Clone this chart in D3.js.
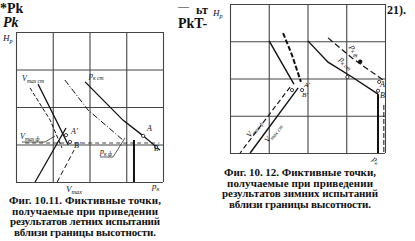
<!DOCTYPE html>
<html>
<head>
<meta charset="utf-8">
<script src="https://cdn.jsdelivr.net/npm/d3@7"></script>
<style>
body{margin:0;background:#fff}
svg{display:block}
text{font-family:"Liberation Serif","DejaVu Serif",serif;fill:#111}
</style>
</head>
<body>
<svg></svg>
<script>
// grid cells: both figures use a 4 x 4 grid in relative units
var gridTicks = [0,1,2,3,4];

// Fig. 10.11 (summer tests) - curves in grid units [x, H]
var sumVmaxSt = [[0.60,2.61],[1.06,1.71],[1.42,0.99]];
var sumVmaxStDash = [[0.38,2.51],[0.93,1.65],[1.25,0.91]];
var sumVmaxF = [[0.52,0],[1.36,1.44]];
var sumVmaxFDash = [[1.12,0],[1.58,0.85]];
var sumPkStDash = [[1.33,2.72],[1.96,1.92],[2.91,1.12]];
var sumPkSt = [[1.88,2.67],[2.91,1.65],[3.46,1.23],[3.92,0.85]];
var sumPkF = [[3.21,1.12],[3.21,0]];
var sumLevelF = [[0.25,1.04],[3.9,1.04]];
var sumPoints = [[1.36,1.25],[1.47,1.07],[3.46,1.23],[3.81,0.93]];

// Fig. 10.12 (winter tests)
var winVmaxSt = [[1.01,3.01],[1.29,2.50],[1.65,1.85]];
var winVmaxF = [[1.37,3.22],[1.60,2.63],[1.83,1.91]];
var winDiagSt = [[1.76,1.75],[0.52,0]];
var winDiagF = [[1.55,1.77],[0.26,0]];
var winPkSt = [[2.01,3.01],[2.53,2.44],[3.15,2.04],[3.82,1.58]];
var winPkF = [[2.53,3.09],[3.15,2.55],[3.95,1.96]];
var winVertSt = [[3.82,1.58],[3.82,0]];
var winVertF = [[3.97,1.29],[3.97,0]];
var winPoints = [[3.85,1.91],[3.82,1.67],[1.86,1.69],[1.60,1.69],[3.03,2.04]];
var winDots = [[3.36,2.45]];

var captionSummer = ["Фиг. 10.11. Фиктивные точки,","получаемые при приведении","результатов летних испытаний","вблизи границы высотности."];
var captionWinter = ["Фиг. 10. 12. Фиктивные точки,","получаемые при приведении","результатов зимних испытаний","вблизи границы высотности."];

var screen = {width:415, height:241};
var svg = d3.select("svg")
            .attr("width",screen.width)
            .attr("height",screen.height);

var line = function(x,y)
{
  return d3.line().x(function(d){return x(d[0]);}).y(function(d){return y(d[1]);});
}

var drawFrame = function(box)
{
  var x = d3.scaleLinear().domain([0,4]).range([box.left,box.right]);
  var y = d3.scaleLinear().domain([0,4]).range([box.bottom,box.top]);
  var g = svg.append("g");

  // grid via axes
  g.append("g")
   .attr("transform","translate(0,"+box.bottom+")")
   .call(d3.axisBottom(x).tickValues(gridTicks).tickSize(-(box.bottom-box.top)).tickFormat(""))
   .call(function(a){a.select(".domain").remove();});
  g.append("g")
   .attr("transform","translate("+box.left+",0)")
   .call(d3.axisLeft(y).tickValues(gridTicks).tickSize(-(box.right-box.left)).tickFormat(""))
   .call(function(a){a.select(".domain").remove();});
  g.selectAll(".tick line").attr("stroke","#444").attr("stroke-width",1.1);
  return {g:g,x:x,y:y};
}

var path = function(c,data,w,dash)
{
  c.g.append("path")
     .datum(data)
     .attr("d",line(c.x,c.y))
     .attr("fill","none")
     .attr("stroke","#111")
     .attr("stroke-width",w)
     .attr("stroke-dasharray",dash||null);
}

// italic symbol with a small subscript, as one text element
var label = function(x,y,main,sub,size,rot)
{
  var tx = svg.append("text")
     .attr("x",x).attr("y",y)
     .attr("font-size",size)
     .attr("font-style","italic");
  tx.append("tspan").text(main);
  if(sub) tx.append("tspan").attr("font-size",size*0.7).attr("dy",2).text(sub);
  if(rot) tx.attr("transform","rotate("+rot+","+x+","+y+")");
  return tx;
}

var plain = function(x,y,t,size,style)
{
  return svg.append("text")
     .attr("x",x).attr("y",y)
     .attr("font-size",size)
     .attr("font-weight","bold")
     .attr("font-style",style||"normal")
     .text(t);
}

// ---- left figure
var L = drawFrame({left:16,right:163,top:32,bottom:182});
path(L,sumVmaxStDash,1,"4,2");
path(L,sumVmaxSt,1.2);
path(L,sumVmaxF,1.3);
path(L,sumVmaxFDash,1,"5,3");
path(L,sumPkStDash,1,"6,2,1,2");
path(L,sumPkSt,1.3);
path(L,sumPkF,2);
path(L,sumLevelF,0.8,"4,3");
L.g.selectAll("circle").data(sumPoints).enter().append("circle")
   .attr("cx",function(d){return L.x(d[0]);})
   .attr("cy",function(d){return L.y(d[1]);})
   .attr("r",1.6).attr("fill","#fff").attr("stroke","#111").attr("stroke-width",0.8);

label(3,41,"H","p",9);
label(22,81,"V","max ст",8);
label(89,78,"p","к ст",8);
label(20,139,"V","max ф",8);
svg.append("path").attr("d","M22,142 L45,142 L55,136").attr("fill","none").attr("stroke","#111").attr("stroke-width",0.7);
label(71,134,"A'","",8);
label(74,148,"B'","",8);
label(147,131,"A","",8);
label(154,151,"Б","",8);
label(100,154,"p","к ф",8);
svg.append("path").attr("d","M100,157 L113,157 L125,138").attr("fill","none").attr("stroke","#111").attr("stroke-width",0.7);
label(66,192,"V","max",9);
label(152,189,"p","к",9);

// ---- right figure
var R = drawFrame({left:230,right:385,top:4,bottom:153});
path(R,winVmaxSt,1.4);
path(R,winVmaxF,2,"5,2");
path(R,winDiagSt,1.4);
path(R,winDiagF,1.1,"5,3");
path(R,winPkSt,1.4);
path(R,winPkF,1.2,"6,3");
path(R,winVertSt,2);
path(R,winVertF,1,"5,2");
R.g.selectAll("circle.o").data(winPoints).enter().append("circle")
   .attr("cx",function(d){return R.x(d[0]);})
   .attr("cy",function(d){return R.y(d[1]);})
   .attr("r",1.6).attr("fill","#fff").attr("stroke","#111").attr("stroke-width",0.8);
R.g.selectAll("circle.f").data(winDots).enter().append("circle")
   .attr("cx",function(d){return R.x(d[0]);})
   .attr("cy",function(d){return R.y(d[1]);})
   .attr("r",2.2).attr("fill","#111");

label(213,16,"H","p",9);
label(380,87,"A","",8);
label(380,98,"B","",8);
label(304,87,"A'","",7);
label(302,97,"B'","",7);
label(250,138,"V","max ф",8,-52);
label(268,143,"V","max ст",8,-52);
label(350,47,"p","к ф",8,55);
label(339,60,"p","к ст",8,40);
label(372,160,"p","к",8,35);

// captions
svg.selectAll("text.cs").data(captionSummer).enter().append("text")
   .attr("x",85).attr("y",function(d,i){return 204+i*10.5;})
   .attr("text-anchor","middle").attr("font-size",11).attr("font-weight","bold")
   .attr("textLength",function(d,i){return [152,146,150,142][i];})
   .text(function(d){return d;});
svg.selectAll("text.cw").data(captionWinter).enter().append("text")
   .attr("x",300).attr("y",function(d,i){return 176+i*10.5;})
   .attr("text-anchor","middle").attr("font-size",11).attr("font-weight","bold")
   .attr("textLength",function(d,i){return [152,146,156,142][i];})
   .text(function(d){return d;});

// header fragments from the scanned page
plain(0,13,"*Pk",14);
plain(3,27,"Pk",14,"italic");
plain(178,10,"—",11).attr("font-weight","normal");
plain(196,14,"ьт",12);
plain(178,28,"PkT-",14);
plain(387,14,"21).",12);
</script>
</body>
</html>
